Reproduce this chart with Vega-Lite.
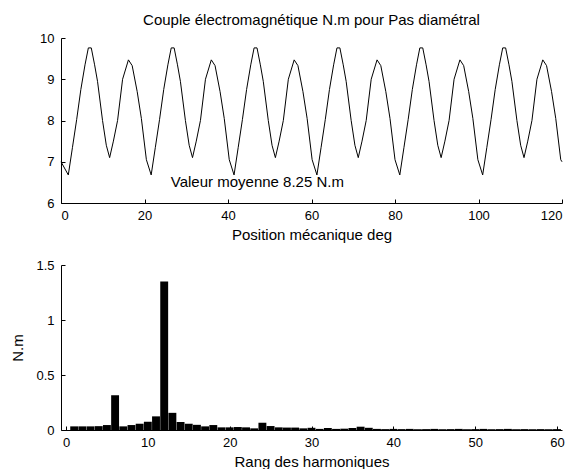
{
  "$schema": "https://vega.github.io/schema/vega-lite/v6.json",
  "padding": {"left": 10, "top": 13, "right": 5, "bottom": 0},
  "background": "white",
  "spacing": 17,
  "config": {
    "font": "Liberation Sans",
    "view": {"stroke": null},
    "axis": {
      "domainColor": "#000", "tickColor": "#000", "labelColor": "#000", "titleColor": "#000",
      "labelFont": "Liberation Sans", "titleFont": "Liberation Sans",
      "labelFontSize": 13, "titleFontSize": 15, "titleFontWeight": "normal",
      "grid": false, "tickSize": -4, "domainWidth": 1, "tickWidth": 1
    },
    "axisX": {"labelPadding": 10, "titlePadding": 5},
    "axisY": {"labelPadding": 11},
    "title": {"font": "Liberation Sans", "fontSize": 15, "fontWeight": "normal", "color": "#000"}
  },
  "datasets": {
    "couple": [
      {"x":0,"y":7.0},
      {"x":1.75,"y":6.68},{"x":2.75,"y":7.35},{"x":3.75,"y":8.02},{"x":4.75,"y":8.75},{"x":5.75,"y":9.35},{"x":6.55,"y":9.76},{"x":7.25,"y":9.76},{"x":8.05,"y":9.35},{"x":8.75,"y":8.95},{"x":9.95,"y":8.0},{"x":10.85,"y":7.4},{"x":11.65,"y":7.1},{"x":12.55,"y":7.5},{"x":13.55,"y":8.0},{"x":14.75,"y":9.0},{"x":16.15,"y":9.47},{"x":17.05,"y":9.33},{"x":18.25,"y":8.7},{"x":19.25,"y":8.05},{"x":20.45,"y":7.05},
      {"x":21.6,"y":6.68},{"x":22.6,"y":7.35},{"x":23.6,"y":8.02},{"x":24.6,"y":8.75},{"x":25.6,"y":9.35},{"x":26.4,"y":9.76},{"x":27.1,"y":9.76},{"x":27.9,"y":9.35},{"x":28.6,"y":8.95},{"x":29.8,"y":8.0},{"x":30.7,"y":7.4},{"x":31.5,"y":7.1},{"x":32.4,"y":7.5},{"x":33.4,"y":8.0},{"x":34.6,"y":9.0},{"x":36.0,"y":9.47},{"x":36.9,"y":9.33},{"x":38.1,"y":8.7},{"x":39.1,"y":8.05},{"x":40.3,"y":7.05},
      {"x":41.45,"y":6.68},{"x":42.45,"y":7.35},{"x":43.45,"y":8.02},{"x":44.45,"y":8.75},{"x":45.45,"y":9.35},{"x":46.25,"y":9.76},{"x":46.95,"y":9.76},{"x":47.75,"y":9.35},{"x":48.45,"y":8.95},{"x":49.65,"y":8.0},{"x":50.55,"y":7.4},{"x":51.35,"y":7.1},{"x":52.25,"y":7.5},{"x":53.25,"y":8.0},{"x":54.45,"y":9.0},{"x":55.85,"y":9.47},{"x":56.75,"y":9.33},{"x":57.95,"y":8.7},{"x":58.95,"y":8.05},{"x":60.15,"y":7.05},
      {"x":61.3,"y":6.68},{"x":62.3,"y":7.35},{"x":63.3,"y":8.02},{"x":64.3,"y":8.75},{"x":65.3,"y":9.35},{"x":66.1,"y":9.76},{"x":66.8,"y":9.76},{"x":67.6,"y":9.35},{"x":68.3,"y":8.95},{"x":69.5,"y":8.0},{"x":70.4,"y":7.4},{"x":71.2,"y":7.1},{"x":72.1,"y":7.5},{"x":73.1,"y":8.0},{"x":74.3,"y":9.0},{"x":75.7,"y":9.47},{"x":76.6,"y":9.33},{"x":77.8,"y":8.7},{"x":78.8,"y":8.05},{"x":80.0,"y":7.05},
      {"x":81.15,"y":6.68},{"x":82.15,"y":7.35},{"x":83.15,"y":8.02},{"x":84.15,"y":8.75},{"x":85.15,"y":9.35},{"x":85.95,"y":9.76},{"x":86.65,"y":9.76},{"x":87.45,"y":9.35},{"x":88.15,"y":8.95},{"x":89.35,"y":8.0},{"x":90.25,"y":7.4},{"x":91.05,"y":7.1},{"x":91.95,"y":7.5},{"x":92.95,"y":8.0},{"x":94.15,"y":9.0},{"x":95.55,"y":9.47},{"x":96.45,"y":9.33},{"x":97.65,"y":8.7},{"x":98.65,"y":8.05},{"x":99.85,"y":7.05},
      {"x":101.0,"y":6.68},{"x":102.0,"y":7.35},{"x":103.0,"y":8.02},{"x":104.0,"y":8.75},{"x":105.0,"y":9.35},{"x":105.8,"y":9.76},{"x":106.5,"y":9.76},{"x":107.3,"y":9.35},{"x":108.0,"y":8.95},{"x":109.2,"y":8.0},{"x":110.1,"y":7.4},{"x":110.9,"y":7.1},{"x":111.8,"y":7.5},{"x":112.8,"y":8.0},{"x":114.0,"y":9.0},{"x":115.4,"y":9.47},{"x":116.3,"y":9.33},{"x":117.5,"y":8.7},{"x":118.5,"y":8.05},{"x":119.7,"y":7.05},
      {"x":120,"y":7.0}
    ],
    "harmoniques": [
      {"h":1,"a":0.033},{"h":2,"a":0.033},{"h":3,"a":0.033},{"h":4,"a":0.035},{"h":5,"a":0.045},{"h":6,"a":0.316},{"h":7,"a":0.033},{"h":8,"a":0.045},{"h":9,"a":0.057},{"h":10,"a":0.075},
      {"h":11,"a":0.124},{"h":12,"a":1.35},{"h":13,"a":0.156},{"h":14,"a":0.073},{"h":15,"a":0.057},{"h":16,"a":0.047},{"h":17,"a":0.033},{"h":18,"a":0.045},{"h":19,"a":0.024},{"h":20,"a":0.024},
      {"h":21,"a":0.027},{"h":22,"a":0.024},{"h":23,"a":0.015},{"h":24,"a":0.066},{"h":25,"a":0.036},{"h":26,"a":0.024},{"h":27,"a":0.022},{"h":28,"a":0.022},{"h":29,"a":0.015},{"h":30,"a":0.02},
      {"h":31,"a":0.01},{"h":32,"a":0.018},{"h":33,"a":0.01},{"h":34,"a":0.012},{"h":35,"a":0.018},{"h":36,"a":0.03},{"h":37,"a":0.02},{"h":38,"a":0.01},{"h":39,"a":0.008},{"h":40,"a":0.01},
      {"h":41,"a":0.008},{"h":42,"a":0.01},{"h":43,"a":0.007},{"h":44,"a":0.008},{"h":45,"a":0.01},{"h":46,"a":0.007},{"h":47,"a":0.008},{"h":48,"a":0.01},{"h":49,"a":0.007},{"h":50,"a":0.008},
      {"h":51,"a":0.01},{"h":52,"a":0.007},{"h":53,"a":0.008},{"h":54,"a":0.01},{"h":55,"a":0.007},{"h":56,"a":0.008},{"h":57,"a":0.007},{"h":58,"a":0.008},{"h":59,"a":0.007},{"h":60,"a":0.008}
    ],
    "note": [{"label": "Valeur moyenne 8.25 N.m"}]
  },
  "vconcat": [
    {
      "width": 501,
      "height": 165,
      "title": {"text": "Couple électromagnétique N.m pour Pas diamétral", "offset": 4},
      "layer": [
        {
          "data": {"name": "couple"},
          "mark": {"type": "line", "color": "#000", "strokeWidth": 1},
          "encoding": {
            "x": {"field": "x", "type": "quantitative", "scale": {"domain": [0, 120], "nice": false, "zero": false},
                  "axis": {"values": [0, 20, 40, 60, 80, 100, 120], "title": "Position mécanique deg"}},
            "y": {"field": "y", "type": "quantitative", "scale": {"domain": [6, 10], "nice": false, "zero": false},
                  "axis": {"values": [6, 7, 8, 9, 10], "title": null}}
          }
        },
        {
          "data": {"name": "note"},
          "mark": {"type": "text", "align": "left", "baseline": "alphabetic", "fontSize": 15, "color": "#000", "font": "Liberation Sans"},
          "encoding": {
            "x": {"datum": 26.3, "type": "quantitative"},
            "y": {"datum": 6.38, "type": "quantitative"},
            "text": {"field": "label"}
          }
        }
      ]
    },
    {
      "width": 501,
      "height": 165,
      "data": {"name": "harmoniques"},
      "mark": {"type": "bar", "color": "#000", "width": 7.9},
      "encoding": {
        "x": {"field": "h", "type": "quantitative", "scale": {"domain": [0, 60], "nice": false},
              "axis": {"values": [0, 10, 20, 30, 40, 50, 60], "title": "Rang des harmoniques"}},
        "y": {"field": "a", "type": "quantitative", "scale": {"domain": [0, 1.5], "nice": false},
              "axis": {"values": [0, 0.5, 1, 1.5], "format": "~g", "title": "N.m", "titlePadding": 10}}
      }
    }
  ]
}
